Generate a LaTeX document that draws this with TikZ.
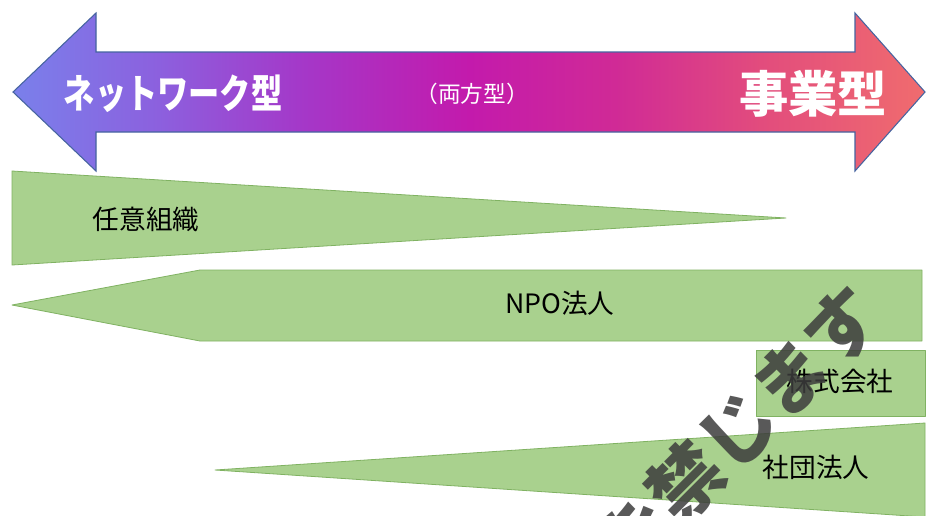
\documentclass[tikz,border=0pt]{standalone}
\usepackage{fontspec}
\usepackage{graphicx}
\newfontfamily\jp{Noto Sans CJK JP}
\definecolor{g1}{RGB}{122,128,235}
\definecolor{g2}{RGB}{140,96,222}
\definecolor{g3}{RGB}{165,55,200}
\definecolor{g4}{RGB}{195,26,172}
\definecolor{g5}{RGB}{208,42,150}
\definecolor{g6}{RGB}{226,76,125}
\definecolor{g7}{RGB}{240,108,110}
\pgfdeclarehorizontalshading{arrowgrad}{100bp}{%
 color(0bp)=(g1); color(25bp)=(g1); color(33bp)=(g2); color(41bp)=(g3);
 color(50bp)=(g4); color(58bp)=(g5); color(66bp)=(g6); color(75bp)=(g7); color(100bp)=(g7)}
\definecolor{leaf}{RGB}{169,209,142}
\definecolor{leafline}{RGB}{128,178,98}
\definecolor{arrline}{RGB}{70,100,160}
\definecolor{wm}{RGB}{60,60,60}
\tikzset{
  greenshape/.style={fill=leaf, draw=leafline, line width=0.6pt, line join=round},
  blacklabel/.style={font=\jp\fontsize{20}{22}\selectfont, text=black, inner sep=0pt},
  whitelabel/.style={text=white, inner sep=0pt},
}
\begin{document}
\begin{tikzpicture}[x=0.75pt,y=-0.75pt]
\useasboundingbox (0,0) rectangle (928,515);
\fill[white] (0,0) rectangle (928,515);
\begin{scope}
\clip (0,0) rectangle (928,515);
% double arrow
\path[shading=arrowgrad, draw=arrline, line width=0.8pt, line join=miter]
  (13,92) -- (96,13) -- (96,52) -- (855,52) -- (855,13) -- (925,92)
  -- (855,171) -- (855,132) -- (96,132) -- (96,171) -- cycle;
\node[whitelabel, font=\jp\bfseries\fontsize{30}{32}\selectfont] (net) at (173,94)
  {\scalebox{0.78}[1]{ネットワーク型}};
\node[whitelabel, font=\jp\bfseries\fontsize{37}{40}\selectfont] (jig) at (813,94) {事業型};
\node[whitelabel, font=\jp\fontsize{17}{19}\selectfont] (both) at (472,94) {（両方型）};
% green shapes
\path[greenshape] (12,171) -- (786,218) -- (12,265) -- cycle;
\node[blacklabel] (nin) at (146,219) {任意組織};
\path[greenshape] (12,305) -- (200,270) -- (922,270) -- (922,341) -- (200,341) -- cycle;
\node[blacklabel] (npo) at (560,303) {NPO法人};
\path[greenshape] (756,350) rectangle (925,416);
\node[blacklabel] (kab) at (840,381) {株式会社};
\path[greenshape] (215,470) -- (925,423) -- (925,517) -- cycle;
\node[blacklabel] (sha) at (816,467) {社団法人};
% watermark
\node[text=wm, opacity=0.85, inner sep=0pt, rotate=45,
  font=\jp\bfseries\fontsize{55}{57}\selectfont] (wmark) at (738,430) {を禁じます};
\end{scope}
\end{tikzpicture}
\end{document}
